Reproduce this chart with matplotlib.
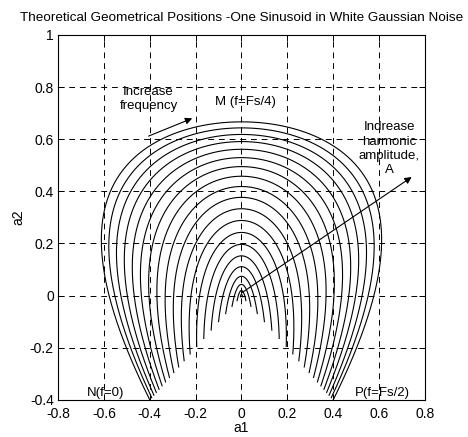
import numpy as np
import matplotlib
matplotlib.use("Agg")
import matplotlib.pyplot as plt

# harmonic amplitudes of the sinusoid, one curve each (noise variance = 1)
amplitudes = [0.1, 0.2, 0.3, 0.4, 0.5, 0.6, 0.7, 0.8, 0.9, 1.0,
              1.1, 1.2, 1.3, 1.4, 1.5, 1.6, 1.7, 1.8, 1.9, 2.0]
noise_var = 1.0
xticks = [-0.8, -0.6, -0.4, -0.2, 0, 0.2, 0.4, 0.6, 0.8]
yticks = [-0.4, -0.2, 0, 0.2, 0.4, 0.6, 0.8, 1]
xtick_labels = ["-0.8", "-0.6", "-0.4", "-0.2", "0", "0.2", "0.4", "0.6", "0.8"]
ytick_labels = ["-0.4", "-0.2", "0", "0.2", "0.4", "0.6", "0.8", "1"]


def ar2_position(amp, w):
    # Yule-Walker AR(2) coefficients for one sinusoid in white noise
    p = amp ** 2 / 2
    r0 = p + noise_var
    r1 = p * np.cos(w)
    r2 = p * np.cos(2 * w)
    det = r0 ** 2 - r1 ** 2
    a1 = r1 * (r2 - r0) / det
    a2 = (r1 ** 2 - r0 * r2) / det
    return a1, a2


plt.rcParams["font.family"] = ["Liberation Sans", "DejaVu Sans"]
fig = plt.figure(figsize=(4.68, 4.37), dpi=100)
ax = fig.add_axes([0.124, 0.085, 0.784, 0.835])

w = np.linspace(0, np.pi, 400)
for amp in amplitudes:
    a1, a2 = ar2_position(amp, w)
    ax.plot(a1, a2, color="black", linewidth=0.8)

ax.set_xlim(-0.8, 0.8)
ax.set_ylim(-0.4, 1)
ax.set_xticks(xticks)
ax.set_xticklabels(xtick_labels)
ax.set_yticks(yticks)
ax.set_yticklabels(ytick_labels)
ax.grid(True, color="black", linestyle=(0, (6, 5)), linewidth=0.7)
ax.tick_params(direction="in", length=4, width=0.7, labelsize=10,
               top=True, right=True, colors="black")
ax.tick_params(axis="x", pad=5)
ax.tick_params(axis="y", pad=3)
for s in ax.spines.values():
    s.set_linewidth(0.8)

ax.set_xlabel("a1", fontsize=10, labelpad=0)
ax.set_ylabel("a2", fontsize=10, labelpad=3)
ax.set_title("Theoretical Geometrical Positions -One Sinusoid in White Gaussian Noise",
             fontsize=9.7, pad=10)

ax.text(-0.405, 0.755, "Increase\nfrequency", fontsize=9.5, ha="center",
        va="center", linespacing=1.2)
ax.annotate("", xy=(-0.215, 0.68), xytext=(-0.405, 0.612),
            arrowprops=dict(arrowstyle="-|>", color="black", lw=0.8,
                            mutation_scale=10, shrinkA=0, shrinkB=0))
ax.text(-0.115, 0.742, "M (f=Fs/4)", fontsize=9.5, ha="left", va="center")
ax.text(0.645, 0.563, "Indrease\nharmonic\namplitude,\nA", fontsize=9.5,
        ha="center", va="center", linespacing=1.25)
ax.annotate("", xy=(0.742, 0.455), xytext=(0.0, 0.01),
            arrowprops=dict(arrowstyle="-|>", color="black", lw=0.8,
                            mutation_scale=10, shrinkA=0, shrinkB=0))
ax.text(-0.594, -0.372, "N(f=0)", fontsize=9.5, ha="center", va="center")
ax.text(0.616, -0.372, "P(f=Fs/2)", fontsize=9.5, ha="center", va="center")

fig.savefig("out.png", dpi=100)
